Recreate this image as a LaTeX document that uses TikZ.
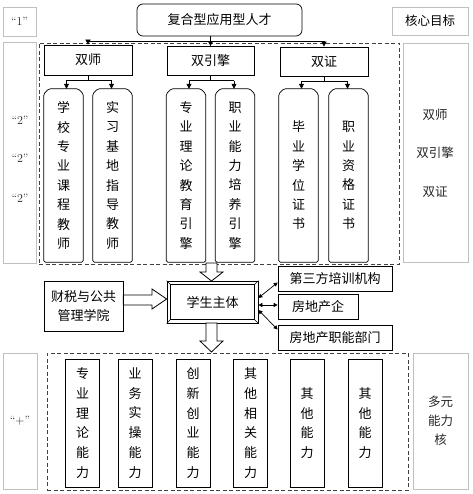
\documentclass[tikz,border=0pt]{standalone}
\usepackage{fontspec}
\newfontfamily\cjk{Noto Sans CJK SC}
\usetikzlibrary{arrows.meta,calc}
\begin{document}
\begin{tikzpicture}[x=1pt,y=-1pt,
 bx/.style={draw, line width=0.7pt, inner sep=0pt, font=\cjk\fontsize{13}{15}\selectfont},
 side/.style={draw=gray!50, line width=0.7pt, inner sep=0pt},
 sidetxt/.style={inner sep=0pt, font=\cjk\fontsize{12.5}{19}\selectfont, align=center, text=black!85},
 qtxt/.style={inner sep=0pt, font=\fontsize{12}{14}\selectfont, text=black!85},
 vb/.style={inner sep=0pt, align=center, minimum width=39pt, font=\cjk\fontsize{13}{19.4}\selectfont},
 vb2/.style={draw, line width=0.7pt, inner sep=0pt, align=center, minimum width=34pt, minimum height=128pt, font=\cjk\fontsize{13}{19.8}\selectfont},
 dbox/.style={draw=black!75, dash pattern=on 4pt off 2.5pt, line width=0.7pt, inner sep=0pt},
 ar/.style={-{Triangle[length=5pt,width=5pt]}, line width=0.7pt},
 dar/.style={{Triangle[length=4pt,width=4pt]}-{Triangle[length=4pt,width=4pt]}, line width=0.7pt},
 hol/.style={draw, fill=white, line width=0.8pt, line join=miter}]
\useasboundingbox (0,0) rectangle (472,494);

% ---- level 1
\node[bx, rounded corners=6pt, minimum width=165pt, minimum height=32pt] (top) at (219.5,20) {复合型应用型人才};
\node[side, minimum width=33pt, minimum height=29pt] (s1) at (19.5,21.5) {};
\node[qtxt] (q1) at (s1.center) {\textquotedblleft 1\textquotedblright};
\node[side, minimum width=76pt, minimum height=28pt, font=\cjk\fontsize{12.5}{15}\selectfont] (g1) at (430,21) {核心目标};

% ---- level 2 side boxes
\node[side, minimum width=33pt, minimum height=221pt] (s2) at (19.5,152.5) {};
\node[qtxt] (q2a) at (20,120) {\textquotedblleft 2\textquotedblright};
\node[qtxt] (q2b) at (20,158) {\textquotedblleft 2\textquotedblright};
\node[qtxt] (q2c) at (20,198) {\textquotedblleft 2\textquotedblright};
\node[side, minimum width=65pt, minimum height=219pt] (g2) at (435.5,152.5) {};
\node[sidetxt] (r1) at (435,115) {双师};
\node[sidetxt] (r2) at (435,153) {双引擎};
\node[sidetxt] (r3) at (435,192) {双证};

\node[dbox, minimum width=360pt, minimum height=221pt] (d1) at (219,153.5) {};

\node[bx, minimum width=88pt, minimum height=30pt] (sx) at (88,60) {双师};
\node[bx, minimum width=87pt, minimum height=29pt] (yq) at (210.5,61) {双引擎};
\node[bx, minimum width=88pt, minimum height=29pt] (sz) at (324,61.5) {双证};

\node[vb, minimum height=173pt] (t1) at (63.5,175.5) {学\\校\\专\\业\\课\\程\\教\\师};
\node[vb, minimum height=173pt] (t2) at (112.5,175.5) {实\\习\\基\\地\\指\\导\\教\\师};
\node[vb, minimum height=173pt] (t3) at (186,175.5) {专\\业\\理\\论\\教\\育\\引\\擎};
\node[vb, minimum height=173pt] (t4) at (235,175.5) {职\\业\\能\\力\\培\\养\\引\\擎};
\node[vb, minimum height=173pt] (t5) at (298.5,175.5) {毕\\业\\学\\位\\证\\书};
\node[vb, minimum height=173pt] (t6) at (348.5,175.5) {职\\业\\资\\格\\证\\书};
\foreach \n in {t1,t2,t3,t4,t5,t6}{
  \draw[line width=0.7pt, rounded corners=1.5pt] (\n.south west) -- ([yshift=-5pt]\n.north west) -- ([xshift=5pt]\n.north west) -- ([xshift=-5pt]\n.north east) -- ([yshift=-5pt]\n.north east) -- (\n.south east) -- cycle;
}

% connectors level 1 -> 2
\coordinate (j1) at ($(yq.north |- top.south)+(0,5)$);
\draw[line width=0.7pt] (yq.north |- top.south) -- (j1);
\draw[line width=0.7pt] (sx.north |- j1) -- (sz.north |- j1);
\draw[ar] (sx.north |- j1) -- (sx.north);
\draw[ar] (j1) -- (yq.north);
\draw[ar] (sz.north |- j1) -- (sz.north);

% connectors level 2 -> 3
\foreach \p/\a/\b in {sx/t1/t2, yq/t3/t4, sz/t5/t6}{
  \coordinate (k\p) at ($(\p.south)+(0,5)$);
  \draw[line width=0.7pt] (\p.south) -- (k\p);
  \draw[line width=0.7pt] ([xshift=3pt]\a.north |- k\p) -- ([xshift=-1pt]\b.north |- k\p);
  \draw[ar] ([xshift=3pt]\a.north |- k\p) -- ([xshift=3pt]\a.north);
  \draw[ar] ([xshift=-1pt]\b.north |- k\p) -- ([xshift=-1pt]\b.north);
}

% ---- middle
\node[bx, minimum width=91pt, minimum height=42pt] (stu) at (212.5,302) {学生主体};
\draw[line width=0.6pt] ([shift={(4pt,4pt)}]stu.south west) rectangle ([shift={(-4pt,-4pt)}]stu.north east);
\draw[line width=0.6pt] (stu.south west) -- ([shift={(4pt,4pt)}]stu.south west);
\draw[line width=0.6pt] (stu.south east) -- ([shift={(-4pt,4pt)}]stu.south east);
\draw[line width=0.6pt] (stu.north west) -- ([shift={(4pt,-4pt)}]stu.north west);
\draw[line width=0.6pt] (stu.north east) -- ([shift={(-4pt,-4pt)}]stu.north east);

\node[bx, minimum width=79pt, minimum height=50pt, align=center, font=\cjk\fontsize{13}{19}\selectfont] (fin) at (83.5,306) {财税与公共\\管理学院};

\node[bx, minimum width=114pt, minimum height=25pt] (e1) at (335,278.5) {第三方培训机构};
\node[bx, minimum width=80pt, minimum height=25pt] (e2) at (318,306.5) {房地产企};
\node[bx, minimum width=114pt, minimum height=25pt] (e3) at (335,337.5) {房地产职能部门};

\draw[dar] ([yshift=4pt]stu.east) -- ([yshift=-4pt]e1.west);
\draw[dar] ([yshift=-3pt]stu.east) -- ([yshift=1.5pt]e2.west);
\draw[dar] ([yshift=-8pt]stu.east) -- ([yshift=8pt]e3.west);

% hollow arrows
\draw[hol] (206,263) -- (206,272) -- (200,272) -- (211.5,281) -- (223,272) -- (217,272) -- (217,263) -- cycle;
\draw[hol] (fin.east |- 0,295) -- (152,295) -- (152,289) -- (stu.west |- 0,299) -- (152,309) -- (152,305) -- (fin.east |- 0,305) -- cycle;
\draw[hol] (206,323) -- (206,341) -- (200,341) -- (211.5,352) -- (223,341) -- (217,341) -- (217,323) -- cycle;

% ---- bottom
\node[side, minimum width=34pt, minimum height=136pt] (s3) at (20,421) {};
\node[qtxt] (q3) at (s3.center) {\textquotedblleft +\textquotedblright};
\node[side, minimum width=55pt, minimum height=136pt] (g3) at (440.5,421) {};
\node[sidetxt] (r4) at (g3.center) {多元\\能力\\核};

\node[dbox, minimum width=361pt, minimum height=137pt] (d2) at (227.5,421.5) {};

\node[vb2] (b1) at (82.5,423) {专\\业\\理\\论\\能\\力};
\node[vb2] (b2) at (135,423) {业\\务\\实\\操\\能\\力};
\node[vb2] (b3) at (193,423) {创\\新\\创\\业\\能\\力};
\node[vb2] (b4) at (250.5,423) {其\\他\\相\\关\\能\\力};
\node[vb2] (b5) at (307,423) {其\\他\\能\\力};
\node[vb2] (b6) at (365,423) {其\\他\\能\\力};
\end{tikzpicture}
\end{document}
